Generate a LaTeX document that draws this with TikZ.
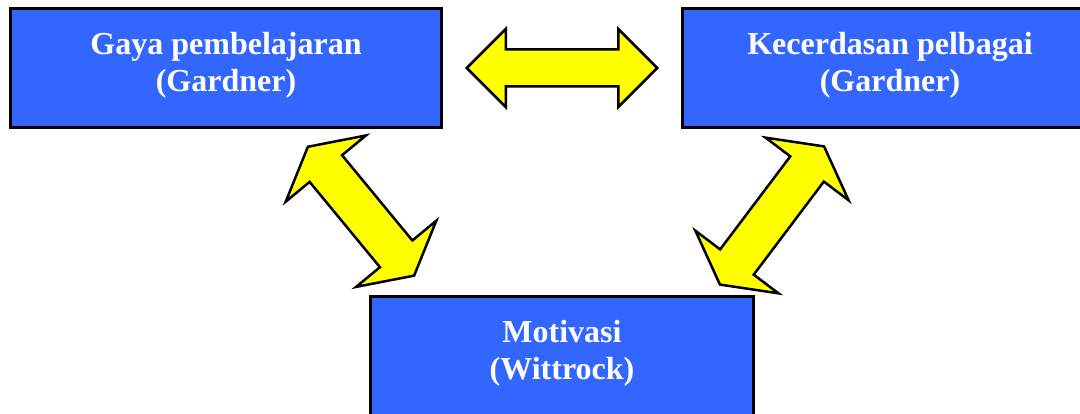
\documentclass[tikz,border=0pt]{standalone}
\usepackage{fontspec}
\setmainfont{Liberation Serif}
\usetikzlibrary{shapes.arrows}
\definecolor{boxblue}{HTML}{3366FF}
\definecolor{arrowyellow}{HTML}{FFFF00}
\newcommand{\boxpad}{\rule[-12pt]{0pt}{12pt}}

\begin{document}
\begin{tikzpicture} [x=1pt, y=-1pt,
 every node/.style = {inner sep=0pt},
 topic/.style = {shape=rectangle, draw=black, line width=3pt, fill=boxblue,
 text=white, align=center, minimum height=119pt,
 font=\bfseries\fontsize{32}{37}\selectfont},
 link/.style = {shape=double arrow, draw=black, line width=2.5pt, fill=arrowyellow,
 text depth=0pt},
 slantlink/.style = {link, text height=39.5pt, double arrow head extend=31pt,
 double arrow tip angle=123}]
 \clip (0,0) rectangle (1080,414);

 \node (gaya) [topic, minimum width=431pt] at (226,68) {Gaya pembelajaran\\(Gardner)\boxpad};
 \node (kecerdasan) [topic, minimum width=416pt] at (890,68) {Kecerdasan pelbagai\\(Gardner)\boxpad};
 \node (motivasi) [topic, minimum width=383pt] at (562,356) {Motivasi\\(Wittrock)\boxpad};

 % arrows between the boxes
 \node (gk) [link, minimum height=190.5pt, text height=34.5pt,
 double arrow head extend=20.5pt] at (562,68) {};
 \node (gm) [slantlink, minimum height=167pt, rotate=-50.5] at (361,211.2) {};
 \node (km) [slantlink, minimum height=173pt, rotate=53] at (772,215.5) {};
\end{tikzpicture}
\end{document}
